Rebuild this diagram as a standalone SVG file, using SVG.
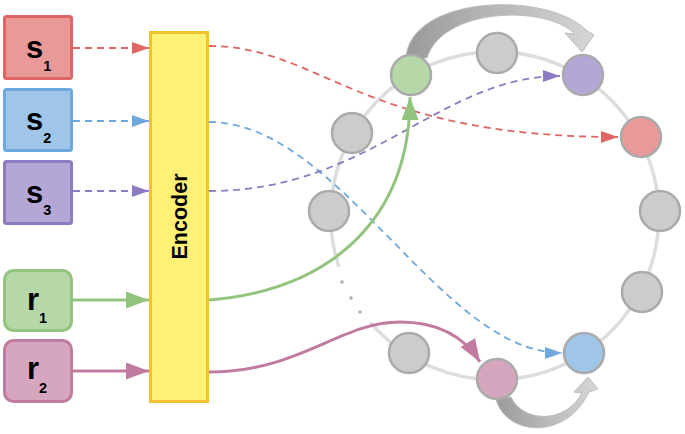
<svg xmlns="http://www.w3.org/2000/svg" width="685" height="434" viewBox="0 0 685 434">
<style>
.lbl{font-family:"Liberation Sans",Arial,sans-serif;font-weight:bold;fill:#000}
.box{stroke-width:3}
.node{stroke:#aaaaaa;stroke-width:2.5}
.gray{fill:#cccccc}
.dash{fill:none;stroke-width:1.8;stroke-dasharray:7 5}
.solid{fill:none;stroke-width:3}
</style>
<defs>
<marker id="m-red" markerUnits="userSpaceOnUse" markerWidth="17" markerHeight="12" refX="17" refY="6" orient="auto"><path d="M0,0 L17,6 L0,12 z" fill="#e06666"/></marker>
<marker id="m-blue" markerUnits="userSpaceOnUse" markerWidth="17" markerHeight="12" refX="17" refY="6" orient="auto"><path d="M0,0 L17,6 L0,12 z" fill="#6fa8dc"/></marker>
<marker id="m-purple" markerUnits="userSpaceOnUse" markerWidth="17" markerHeight="12" refX="17" refY="6" orient="auto"><path d="M0,0 L17,6 L0,12 z" fill="#8e7cc3"/></marker>
<marker id="m-green" markerUnits="userSpaceOnUse" markerWidth="23" markerHeight="17" refX="23" refY="8.5" orient="auto"><path d="M0,0 L23,8.5 L0,17 z" fill="#93c47d"/></marker>
<marker id="m-pink" markerUnits="userSpaceOnUse" markerWidth="23" markerHeight="17" refX="23" refY="8.5" orient="auto"><path d="M0,0 L23,8.5 L0,17 z" fill="#c27ba0"/></marker>
<linearGradient id="g-top" gradientUnits="userSpaceOnUse" x1="405" y1="0" x2="595" y2="0"><stop offset="0" stop-color="#9a9a9a"/><stop offset="1" stop-color="#d6d6d6"/></linearGradient>
<linearGradient id="g-bot" gradientUnits="userSpaceOnUse" x1="496" y1="0" x2="600" y2="0"><stop offset="0" stop-color="#9a9a9a"/><stop offset="1" stop-color="#d8d8d8"/></linearGradient>
</defs>

<g id="ring">
<path d="M370.5,322.7 A164,164 0 1 0 339,267" fill="none" stroke="#dddddd" stroke-width="3.5"/>
<circle cx="342" cy="282" r="1.7" fill="#aaaaaa"/>
<circle cx="351" cy="298" r="1.7" fill="#aaaaaa"/>
<circle cx="360" cy="312" r="1.7" fill="#aaaaaa"/>
</g>

<g id="s1"><rect class="box" x="4.5" y="16.5" width="67" height="62" rx="2" fill="#ea9999" stroke="#e06666"/><text class="lbl" x="26" y="58" font-size="31">s<tspan font-size="14.5" dy="13">1</tspan></text></g>
<g id="s2"><rect class="box" x="4.5" y="89.5" width="67" height="61" rx="2" fill="#9fc5e8" stroke="#6fa8dc"/><text class="lbl" x="26" y="130" font-size="31">s<tspan font-size="14.5" dy="13">2</tspan></text></g>
<g id="s3"><rect class="box" x="4.5" y="161.5" width="67" height="62" rx="2" fill="#b4a7d6" stroke="#8e7cc3"/><text class="lbl" x="26" y="203" font-size="31">s<tspan font-size="14.5" dy="12">3</tspan></text></g>
<g id="r1"><rect class="box" x="4.5" y="270.5" width="67" height="60" rx="9" fill="#b6d7a8" stroke="#93c47d"/><text class="lbl" x="27" y="310" font-size="31">r<tspan font-size="14.5" dy="13">1</tspan></text></g>
<g id="r2"><rect class="box" x="4.5" y="340.5" width="67" height="61" rx="9" fill="#d5a6bd" stroke="#c27ba0"/><text class="lbl" x="27" y="379" font-size="31">r<tspan font-size="14.5" dy="14">2</tspan></text></g>

<g id="encoder"><rect x="150.5" y="32.5" width="57" height="369" fill="#fff176" stroke="#f1c232" stroke-width="3"/><text class="lbl" font-size="21.5" text-anchor="middle" transform="translate(186.5,216.5) rotate(-90)">Encoder</text></g>

<g id="connectors">
<path class="dash" stroke="#e06666" d="M73,48 L149,48" marker-end="url(#m-red)"/>
<path class="dash" stroke="#6fa8dc" d="M73,121 L149,121" marker-end="url(#m-blue)"/>
<path class="dash" stroke="#8e7cc3" d="M73,191 L149,191" marker-end="url(#m-purple)"/>
<path class="solid" stroke="#93c47d" d="M73,300 L149,300" marker-end="url(#m-green)"/>
<path class="solid" stroke="#c27ba0" d="M73,371 L149,371" marker-end="url(#m-pink)"/>
<path class="dash" stroke="#e06666" d="M209,46 C320,46 360,137 618,137" marker-end="url(#m-red)"/>
<path class="dash" stroke="#6fa8dc" d="M209,122 C340,122 440,353 562,353" marker-end="url(#m-blue)"/>
<path class="dash" stroke="#8e7cc3" d="M209,191 C370,191 440,76 560,76" marker-end="url(#m-purple)"/>
<path class="solid" stroke="#93c47d" d="M209,300 C330,290 410,220 410,97" marker-end="url(#m-green)"/>
<path class="solid" stroke="#c27ba0" d="M209,372 C300,372 340,322 400,322 C440,322 465,338 480,362" marker-end="url(#m-pink)"/>
<path d="M406,58 C410,-4 545,-10 586,30 L594,35 L582,52 L565,33 L575,34 C545,4 442,8 427,58 Z" fill="url(#g-top)" stroke="#bdbdbd" stroke-width="1"/>
<path d="M496,399 C505,435 565,442 589,392 L598,389 L588,377 L574,392 L582,393 C565,425 522,422 511,397 Z" fill="url(#g-bot)" stroke="#bdbdbd" stroke-width="1"/>
</g>

<g id="n1"><circle class="node gray" cx="497" cy="53" r="20"/></g>
<g id="n2"><circle class="node" cx="411" cy="75" r="20" fill="#b6d7a8"/></g>
<g id="n3"><circle class="node" cx="583" cy="75" r="20" fill="#b4a7d6"/></g>
<g id="n4"><circle class="node gray" cx="352" cy="133" r="20"/></g>
<g id="n5"><circle class="node" cx="641" cy="137" r="20" fill="#ea9999"/></g>
<g id="n6"><circle class="node gray" cx="329" cy="211" r="20"/></g>
<g id="n7"><circle class="node gray" cx="660" cy="211" r="20"/></g>
<g id="n8"><circle class="node gray" cx="642" cy="292" r="20"/></g>
<g id="n9"><circle class="node gray" cx="409" cy="353" r="20"/></g>
<g id="n10"><circle class="node" cx="584" cy="353" r="20" fill="#9fc5e8"/></g>
<g id="n11"><circle class="node" cx="497" cy="379" r="20" fill="#d5a6bd"/></g>
</svg>
